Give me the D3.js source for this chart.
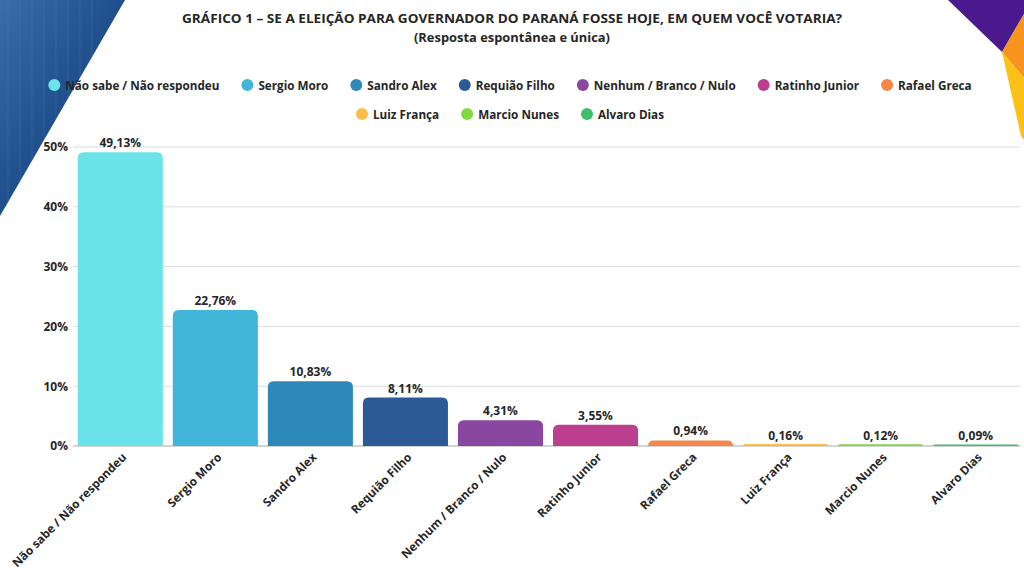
<!DOCTYPE html>
<html><head><meta charset="utf-8">
<script src="https://cdn.jsdelivr.net/npm/d3@7"></script>
<style>
html,body{margin:0;padding:0;background:#fff;}
svg{display:block;font-family:"Open Sans",sans-serif;}
</style></head>
<body>
<svg id="chart" width="1024" height="568"></svg>
<script>
const categories = ["Não sabe / Não respondeu","Sergio Moro","Sandro Alex","Requião Filho","Nenhum / Branco / Nulo","Ratinho Junior","Rafael Greca","Luiz França","Marcio Nunes","Alvaro Dias"];
const values = [49.13,22.76,10.83,8.11,4.31,3.55,0.94,0.16,0.12,0.09];
const valueLabels = ["49,13%","22,76%","10,83%","8,11%","4,31%","3,55%","0,94%","0,16%","0,12%","0,09%"];
const colors = ["#6ae4e9","#42b6d8","#2c89b9","#2c5a95","#8a47a0","#bb3e8f","#f6874a","#fbbd46","#80d842","#3dbf6b"];
const yTicks = [0,10,20,30,40,50];
const titleLines = ["GRÁFICO 1 – SE A ELEIÇÃO PARA GOVERNADOR DO PARANÁ FOSSE HOJE, EM QUEM VOCÊ VOTARIA?","(Resposta espontânea e única)"];
const legendRows = [[0,1,2,3,4,5,6],[7,8,9]];

const svg = d3.select("#chart");

// decorations
const defs = svg.append("defs");
const g1 = defs.append("linearGradient").attr("id","blueG").attr("x1","0").attr("y1","0").attr("x2","1").attr("y2","1");
g1.append("stop").attr("offset","0").attr("stop-color","#3a6ea8");
g1.append("stop").attr("offset","0.5").attr("stop-color","#1f4f8c");
g1.append("stop").attr("offset","1").attr("stop-color","#123a70");
svg.append("polygon").attr("points","0,0 125,0 0,216").attr("fill","url(#blueG)");
const streaks = d3.range(8);
svg.append("g").selectAll("line").data(streaks).join("line")
  .attr("x1",(d,i)=>8+i*12).attr("y1",0)
  .attr("x2",(d,i)=>8+i*12).attr("y2",(d,i)=>216*(1-(8+i*12)/125))
  .attr("stroke","#4c7fb8").attr("stroke-opacity",0.35).attr("stroke-width",1);
svg.append("polygon").attr("points","948,0 1024,0 1024,14 1002,52").attr("fill","#4a1a8c");
svg.append("polygon").attr("points","1002,52 1024,14 1024,78").attr("fill","#f7941d");
svg.append("polygon").attr("points","1002,52 1024,78 1024,140 1021,136").attr("fill","#fbc117");

// title
svg.append("g").selectAll("text").data(titleLines).join("text")
  .attr("x",512).attr("y",(d,i)=>23+i*19)
  .attr("text-anchor","middle").attr("font-size",13).attr("font-weight",700)
  .attr("fill","#262626").attr("textLength",(d,i)=>i===0?660:196).attr("lengthAdjust","spacingAndGlyphs")
  .text(d=>d);

// scales
const x = d3.scaleBand().domain(categories).range([73,1023]).paddingInner(0.105).paddingOuter(0.05);
const y = d3.scaleLinear().domain([0,50]).range([446,147]);

// grid
svg.append("g").selectAll("line").data(yTicks).join("line")
  .attr("x1",73).attr("x2",1020).attr("y1",d=>y(d)).attr("y2",d=>y(d))
  .attr("stroke",d=>d===0?"#a8a8a8":"#dcdcdc").attr("stroke-width",1);

// y axis labels
const yAxis = d3.axisLeft(y).tickValues(yTicks).tickFormat(d=>d+"%").tickSize(0).tickPadding(0);
const ya = svg.append("g").attr("transform","translate(68,0)").call(yAxis);
ya.select(".domain").remove();
ya.selectAll("text").attr("font-size",12).attr("font-weight",700).attr("fill","#262626").attr("font-family","Open Sans");

// bars with rounded top
function barPath(x0,w,yTop,yBase,r){
  const h = yBase-yTop;
  r = Math.min(r,h,w/2);
  return `M${x0},${yBase}V${yTop+r}Q${x0},${yTop} ${x0+r},${yTop}H${x0+w-r}Q${x0+w},${yTop} ${x0+w},${yTop+r}V${yBase}Z`;
}
svg.append("g").selectAll("path").data(categories).join("path")
  .attr("d",(d,i)=>barPath(x(d),x.bandwidth(),y(values[i])-(values[i]<0.5?1:0),y(0),6))
  .attr("fill",(d,i)=>colors[i]);

// value labels
svg.append("g").selectAll("text").data(categories).join("text")
  .attr("x",d=>x(d)+x.bandwidth()/2).attr("y",(d,i)=>y(values[i])-5)
  .attr("text-anchor","middle").attr("font-size",12).attr("font-weight",700).attr("fill","#262626")
  .text((d,i)=>valueLabels[i]);

// x labels
const xAxis = d3.axisBottom(x).tickSize(0).tickPadding(0);
const xa = svg.append("g").attr("transform","translate(0,446)").call(xAxis);
xa.select(".domain").remove();
xa.selectAll("text").attr("font-size",11.8).attr("font-weight",700).attr("fill","#262626").attr("font-family","Open Sans")
  .attr("text-anchor","end").attr("dy",0).attr("y",0)
  .attr("transform","translate(7,12) rotate(-45)");

// legend
const legG = svg.append("g");
const gap = 22;
legendRows.forEach((row,ri)=>{
  const rowG = legG.append("g");
  let cx = 0;
  row.forEach(idx=>{
    const it = rowG.append("g").attr("transform",`translate(${cx},0)`);
    it.append("circle").attr("cx",6).attr("cy",0).attr("r",6).attr("fill",colors[idx]);
    const t = it.append("text").attr("x",17).attr("y",4.5).attr("font-size",11.7).attr("font-weight",700).attr("fill","#262626").text(categories[idx]);
    cx += 17 + t.node().getComputedTextLength() + gap;
  });
  const total = cx - gap;
  rowG.attr("transform",`translate(${510-total/2},${85+ri*29})`);
});
</script>
</body></html>
